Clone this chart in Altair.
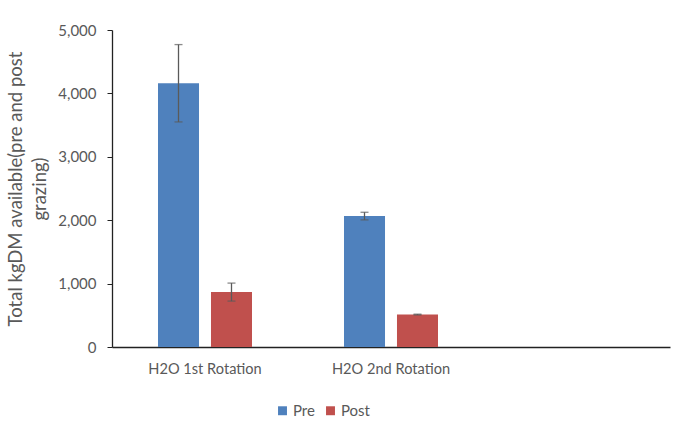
import altair as alt
import pandas as pd

# Pasture cover before and after grazing, by rotation
rotations = ["H2O 1st Rotation", "H2O 1st Rotation", "H2O 2nd Rotation", "H2O 2nd Rotation"]
phases = ["Pre", "Post", "Pre", "Post"]
kgdm = [4160, 866, 2065, 512]
errors = [610, 142, 60, 6]

# category slots on the x axis (third slot left empty)
slots = ["H2O 1st Rotation", "H2O 2nd Rotation", " "]
phase_order = ["Pre", "Post"]
phase_colors = ["#4F81BD", "#C0504D"]
y_ticks = [0, 1000, 2000, 3000, 4000, 5000]

df = pd.DataFrame({"rotation": rotations, "phase": phases, "value": kgdm, "err": errors})

FONT = "Lato"
TEXT = "#595959"

x_enc = alt.X(
    "rotation:N",
    scale=alt.Scale(domain=slots, paddingInner=0, paddingOuter=0),
    axis=alt.Axis(title=None, labelAngle=0, ticks=False, labelPadding=14,
                  domainColor="#222222", domainWidth=1.3,
                  labelColor=TEXT, labelFontSize=14.6, labelFont=FONT),
)
xoff_enc = alt.XOffset(
    "phase:N",
    scale=alt.Scale(domain=phase_order, paddingInner=0.226, paddingOuter=0.868),
)

base = alt.Chart(df)

bars = base.mark_bar().encode(
    x=x_enc,
    xOffset=xoff_enc,
    y=alt.Y(
        "value:Q",
        scale=alt.Scale(domain=[0, 5000], nice=False),
        axis=alt.Axis(
            values=y_ticks, format=",.0f", grid=False,
            title=["Total kgDM available(pre and post", "grazing)"],
            titleFont=FONT, titleFontSize=18.5, titleFontWeight="normal",
            titleColor=TEXT, titlePadding=8, titleLineHeight=24,
            labelColor=TEXT, labelFontSize=15, labelFont=FONT, labelPadding=11,
            tickSize=5, tickColor="#222222", domainColor="#222222", domainWidth=1.3,
        ),
    ),
    color=alt.Color(
        "phase:N",
        scale=alt.Scale(domain=phase_order, range=phase_colors),
        legend=alt.Legend(
            title=None, orient="none", direction="horizontal",
            legendX=163, legendY=373, symbolType="square", symbolSize=80,
            symbolStrokeWidth=0, labelFont=FONT, labelFontSize=15,
            labelColor=TEXT, columnPadding=8, labelOffset=3,
        ),
    ),
)

err_base = base.transform_calculate(
    lo="datum.value - datum.err", hi="datum.value + datum.err"
)

whiskers = err_base.mark_rule(color="#5a5a5a", strokeWidth=1.3).encode(
    x=x_enc, xOffset=xoff_enc, y="lo:Q", y2="hi:Q"
)
cap_hi = err_base.mark_tick(color="#5a5a5a", size=8, thickness=1.3).encode(
    x=x_enc, xOffset=xoff_enc, y="hi:Q"
)
cap_lo = err_base.mark_tick(color="#5a5a5a", size=8, thickness=1.3).encode(
    x=x_enc, xOffset=xoff_enc, y="lo:Q"
)

chart = (
    alt.layer(bars, whiskers, cap_hi, cap_lo)
    .properties(
        width=558, height=317,
        autosize=alt.AutoSizeParams(type="none"),
        padding={"left": 112, "top": 30, "right": 13, "bottom": 77},
        background="white",
    )
    .configure_view(stroke=None)
)

chart.save("out.html", embed_options={"renderer": "svg", "actions": False})
